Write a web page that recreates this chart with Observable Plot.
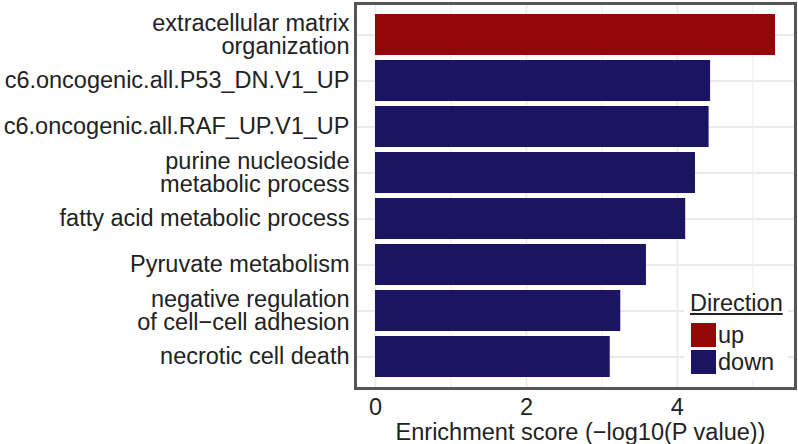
<!DOCTYPE html>
<html>
<head>
<meta charset="utf-8">
<script src="https://cdn.jsdelivr.net/npm/d3@7"></script>
<script src="https://cdn.jsdelivr.net/npm/@observablehq/plot@0.6"></script>
<style>
  html, body { margin: 0; padding: 0; background: #fff; }
  #wrap { position: relative; width: 798px; height: 444px; font-family: "Liberation Sans", Arial, sans-serif; color: #222; }
  #legend { position: absolute; left: 684px; top: 287px; width: 104px; height: 92px; background: #fff; }
  #legend .title { position: absolute; left: 6px; top: 4px; font-size: 23.5px; line-height: 24px; text-decoration: underline; text-underline-offset: 2px; text-decoration-thickness: 1.5px; }
  #legend .item { position: absolute; left: 7px; display: flex; align-items: center; height: 24px; font-size: 23.5px; line-height: 24px; }
  #legend .key { width: 25px; height: 24px; margin-right: 2px; }
</style>
</head>
<body>
<div id="wrap"></div>
<script>
const categories = [
  "extracellular matrix\norganization",
  "c6.oncogenic.all.P53_DN.V1_UP",
  "c6.oncogenic.all.RAF_UP.V1_UP",
  "purine nucleoside\nmetabolic process",
  "fatty acid metabolic process",
  "Pyruvate metabolism",
  "negative regulation\nof cell\u2212cell adhesion",
  "necrotic cell death"
];
const scores = [5.30, 4.44, 4.42, 4.24, 4.11, 3.59, 3.25, 3.11];
const directions = ["up", "down", "down", "down", "down", "down", "down", "down"];
const directionLevels = ["up", "down"];
const directionColors = ["#930709", "#1b1462"];
const majorTicks = [0, 2, 4];
const minorTicks = [1, 3, 5];
const xTitle = "Enrichment score (\u2212log10(P value))";
const legendTitle = "Direction";

const data = categories.map((c, i) => ({term: c, score: scores[i], direction: directions[i]}));

const grid = "#ebebeb";
const fs = 23.5;
const chart = Plot.plot({
  width: 798,
  height: 444,
  marginLeft: 355,
  marginRight: 3,
  marginTop: 3,
  marginBottom: 56,
  x: {domain: [-0.265, 5.565]},
  y: {domain: categories, paddingInner: 0.1, paddingOuter: 0.15},
  color: {domain: directionLevels, range: directionColors},
  style: {fontFamily: "'Liberation Sans', Arial, sans-serif", fontSize: fs + "px", color: "#222", background: "white"},
  marks: [
    Plot.gridX(minorTicks, {stroke: grid, strokeOpacity: 1, strokeWidth: 0.9}),
    Plot.gridX(majorTicks, {stroke: grid, strokeOpacity: 1, strokeWidth: 1.8}),
    Plot.gridY({stroke: grid, strokeOpacity: 1, strokeWidth: 1.8}),
    Plot.barX(data, {x: "score", y: "term", fill: "direction"}),
    Plot.frame({stroke: "#555", strokeWidth: 3}),
    Plot.axisX(majorTicks, {tickSize: 0, tickPadding: 10, label: null, fontSize: fs}),
    Plot.axisY({tickSize: 0, tickPadding: 6, label: null, fontSize: fs, lineHeight: 0.98}),
    Plot.text([xTitle], {frameAnchor: "bottom", lineAnchor: "middle", dy: 44, dx: 5, fontSize: fs, fill: "#222"})
  ]
});

const wrap = document.getElementById("wrap");
wrap.appendChild(chart);

const legend = document.createElement("div");
legend.id = "legend";
const t = document.createElement("div");
t.className = "title";
t.textContent = legendTitle;
legend.appendChild(t);
directionLevels.forEach((lvl, i) => {
  const item = document.createElement("div");
  item.className = "item";
  item.style.top = (36 + i * 27) + "px";
  const key = document.createElement("div");
  key.className = "key";
  key.style.background = directionColors[i];
  const lab = document.createElement("span");
  lab.textContent = lvl;
  item.appendChild(key);
  item.appendChild(lab);
  legend.appendChild(item);
});
wrap.appendChild(legend);
</script>
</body>
</html>
